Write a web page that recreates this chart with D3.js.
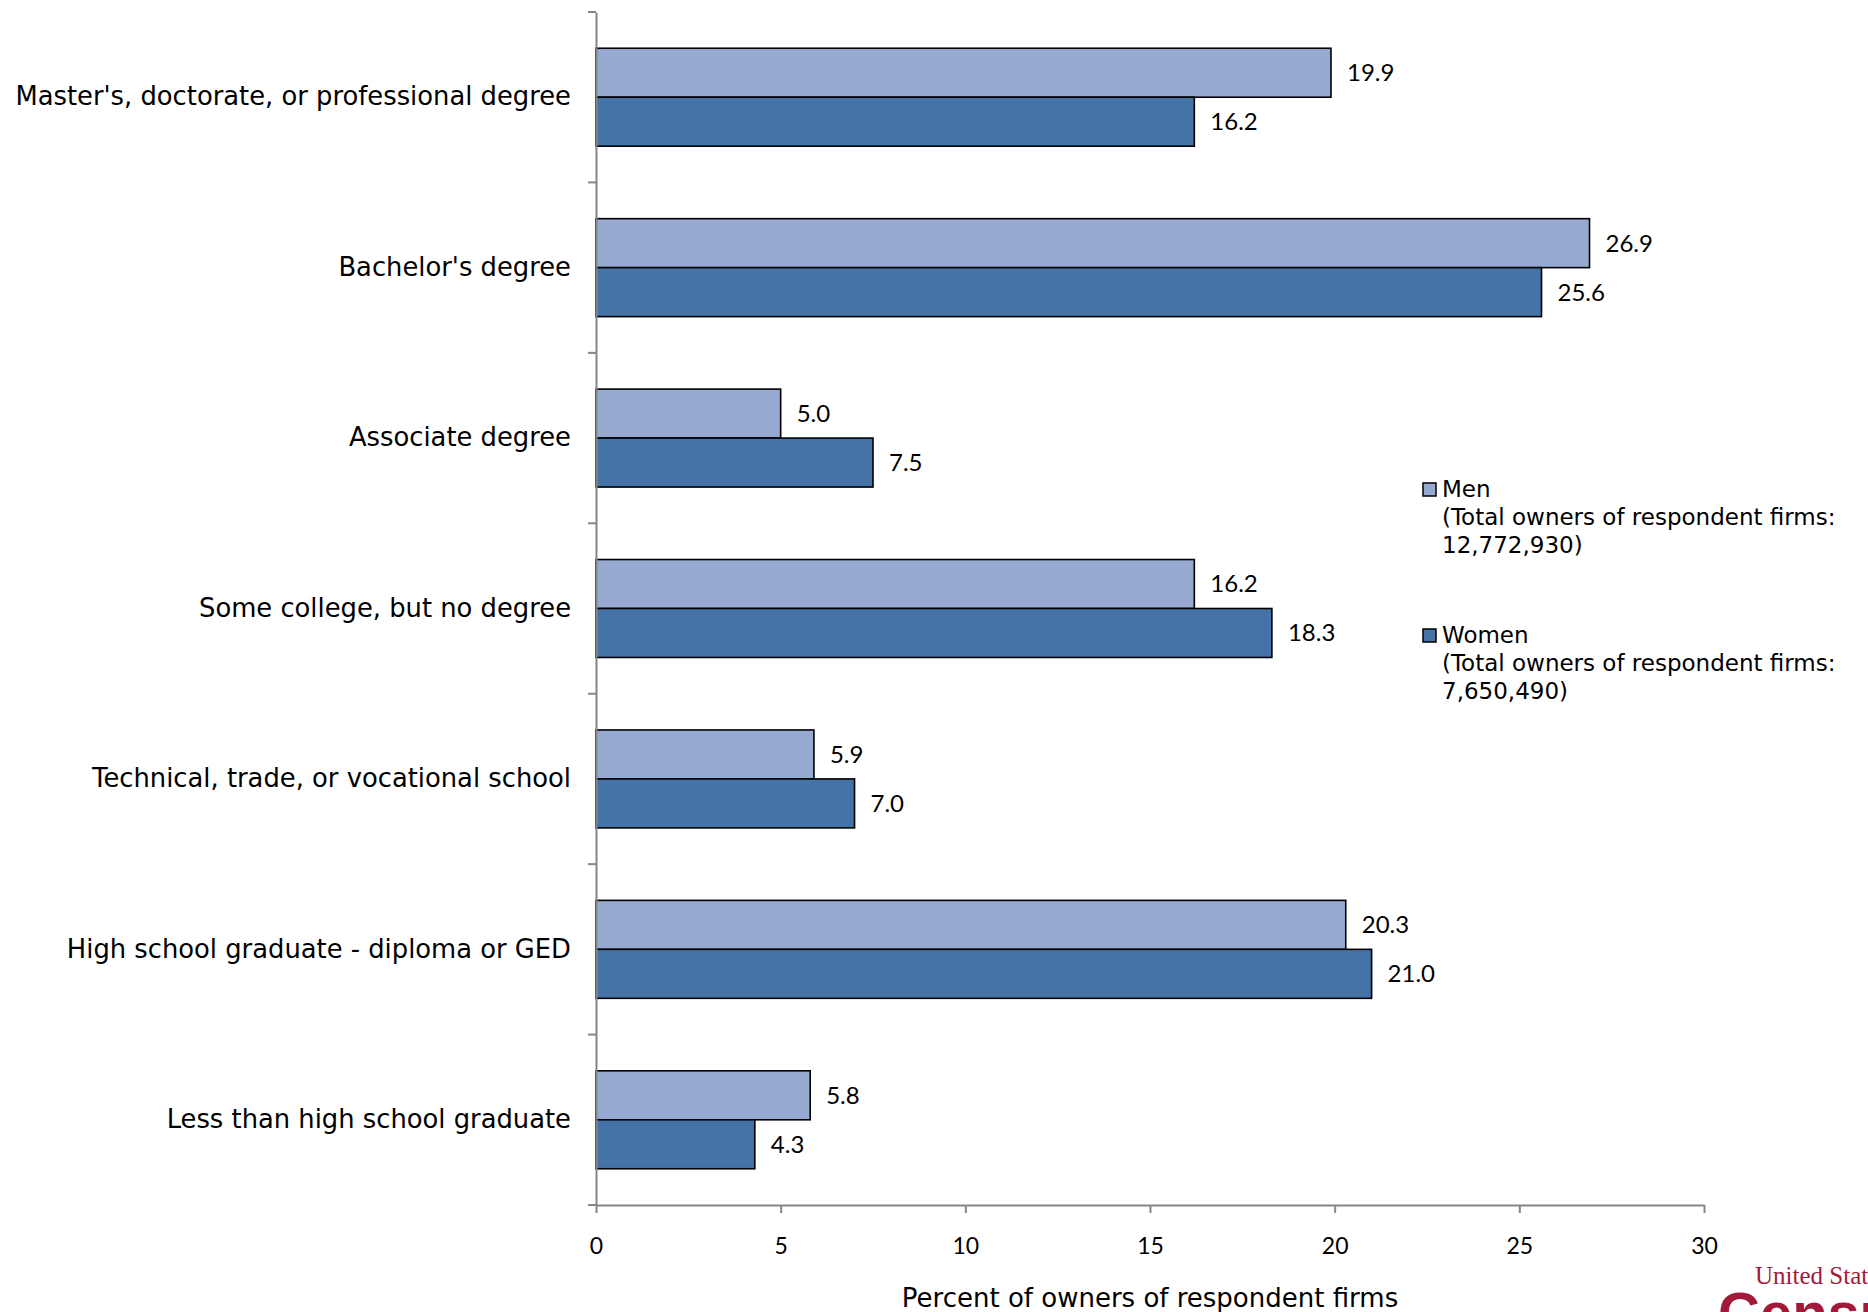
<!DOCTYPE html>
<html>
<head>
<meta charset="utf-8">
<script src="https://cdn.jsdelivr.net/npm/d3@7"></script>
<style>
  body { margin: 0; background: #fff; }
  svg { display: block; }
</style>
</head>
<body>
<div id="chart"></div>
<script>
// Data
const categories = [
    "Master's, doctorate, or professional degree",
    "Bachelor's degree",
    "Associate degree",
    "Some college, but no degree",
    "Technical, trade, or vocational school",
    "High school graduate - diploma or GED",
    "Less than high school graduate"
];
const series = ["Men", "Women"];
const menValues = [19.9, 26.9, 5.0, 16.2, 5.9, 20.3, 5.8];
const womenValues = [16.2, 25.6, 7.5, 18.3, 7.0, 21.0, 4.3];
const xTicks = [0, 5, 10, 15, 20, 25, 30];
const legendLines = [
    ["Men", "(Total owners of respondent firms:", "12,772,930)"],
    ["Women", "(Total owners of respondent firms:", "7,650,490)"]
];

const colors = {Men: "#95a9d1", Women: "#4572a7"};

const W = 1868, H = 1312;
const margin = {top: 12, right: 164, bottom: 107, left: 596};

const svg = d3.select("#chart")
    .append("svg")
    .attr("width", W)
    .attr("height", H);

// Scales
const x = d3.scaleLinear()
    .domain([0, 30])
    .range([margin.left, W - margin.right]);

const y0 = d3.scaleBand()
    .domain(categories)
    .range([margin.top, H - margin.bottom]);

const y1 = d3.scaleBand()
    .domain(series)
    .range([0, y0.bandwidth()])
    .paddingOuter(0.74);

const rows = categories.map((c, i) => ({
    cat: c,
    vals: [
        {key: "Men", value: menValues[i]},
        {key: "Women", value: womenValues[i]}
    ]
}));

// Bars
const groups = svg.append("g")
    .selectAll("g")
    .data(rows)
    .join("g")
    .attr("transform", d => `translate(0,${y0(d.cat)})`);

groups.selectAll("rect")
    .data(d => d.vals)
    .join("rect")
    .attr("x", x(0))
    .attr("y", d => y1(d.key))
    .attr("width", d => x(d.value) - x(0))
    .attr("height", y1.bandwidth())
    .attr("fill", d => colors[d.key])
    .attr("stroke", "#000")
    .attr("stroke-width", 1.6);

// Value labels
groups.selectAll("text")
    .data(d => d.vals)
    .join("text")
    .attr("x", d => x(d.value) + 16)
    .attr("y", d => y1(d.key) + y1.bandwidth() / 2)
    .attr("dy", "0.35em")
    .style("font", "24px Lato, Carlito, sans-serif")
    .attr("fill", "#000")
    .text(d => d.value.toFixed(1));

// x axis
const xAxis = svg.append("g")
    .attr("transform", `translate(0,${H - margin.bottom})`)
    .call(d3.axisBottom(x).tickValues(xTicks).tickSize(8).tickPadding(25).tickSizeOuter(0));

xAxis.select(".domain").attr("stroke", "#868686").attr("stroke-width", 2);
xAxis.selectAll(".tick line").attr("stroke", "#868686").attr("stroke-width", 2);
xAxis.selectAll(".tick text")
    .style("font", "23px Lato, Carlito, sans-serif")
    .attr("fill", "#000");

// y axis line + boundary ticks
const yAxis = svg.append("g")
    .attr("transform", `translate(${x(0)},0)`)
    .call(d3.axisLeft(y0).tickSize(0).tickFormat(""));

yAxis.select(".domain").attr("stroke", "#868686").attr("stroke-width", 2);

const bounds = categories.map(c => y0(c)).concat([y0.range()[1]]);
svg.append("g")
    .selectAll("line")
    .data(bounds)
    .join("line")
    .attr("x1", x(0) - 8)
    .attr("x2", x(0))
    .attr("y1", d => d)
    .attr("y2", d => d)
    .attr("stroke", "#868686")
    .attr("stroke-width", 2);

// category labels
svg.append("g")
    .selectAll("text")
    .data(categories)
    .join("text")
    .attr("x", x(0) - 25)
    .attr("y", d => y0(d) + y0.bandwidth() / 2)
    .attr("dy", "0.32em")
    .attr("text-anchor", "end")
    .style("font", "25.8px 'DejaVu Sans', sans-serif")
    .attr("fill", "#000")
    .text(d => d);

// x axis title
svg.append("text")
    .attr("x", (x(0) + x(30)) / 2)
    .attr("y", 1307)
    .attr("text-anchor", "middle")
    .style("font", "26px 'DejaVu Sans', sans-serif")
    .attr("fill", "#000")
    .text("Percent of owners of respondent firms");

// legend
const legend = svg.append("g")
    .selectAll("g")
    .data(series)
    .join("g")
    .attr("transform", (d, i) => `translate(1423,${483 + i * 146})`);

legend.append("rect")
    .attr("width", 13)
    .attr("height", 13)
    .attr("fill", d => colors[d])
    .attr("stroke", "#000")
    .attr("stroke-width", 1.5);

legend.append("text")
    .style("font", "23px 'DejaVu Sans', sans-serif")
    .attr("fill", "#000")
    .selectAll("tspan")
    .data((d, i) => legendLines[i])
    .join("tspan")
    .attr("x", 19)
    .attr("y", (d, j) => 14 + j * 28)
    .text(d => d);

// Census logo (cut off at bottom right, as in the source)
svg.append("text")
    .attr("x", 1755)
    .attr("y", 1284)
    .style("font", "25px 'Liberation Serif', 'DejaVu Serif', serif")
    .attr("fill", "#a3193a")
    .text("United States");

svg.append("text")
    .attr("x", 1718)
    .attr("y", 1333)
    .style("font", "bold 58px 'Liberation Sans', sans-serif")
    .attr("fill", "#a3193a")
    .text("Census");
</script>
</body>
</html>
